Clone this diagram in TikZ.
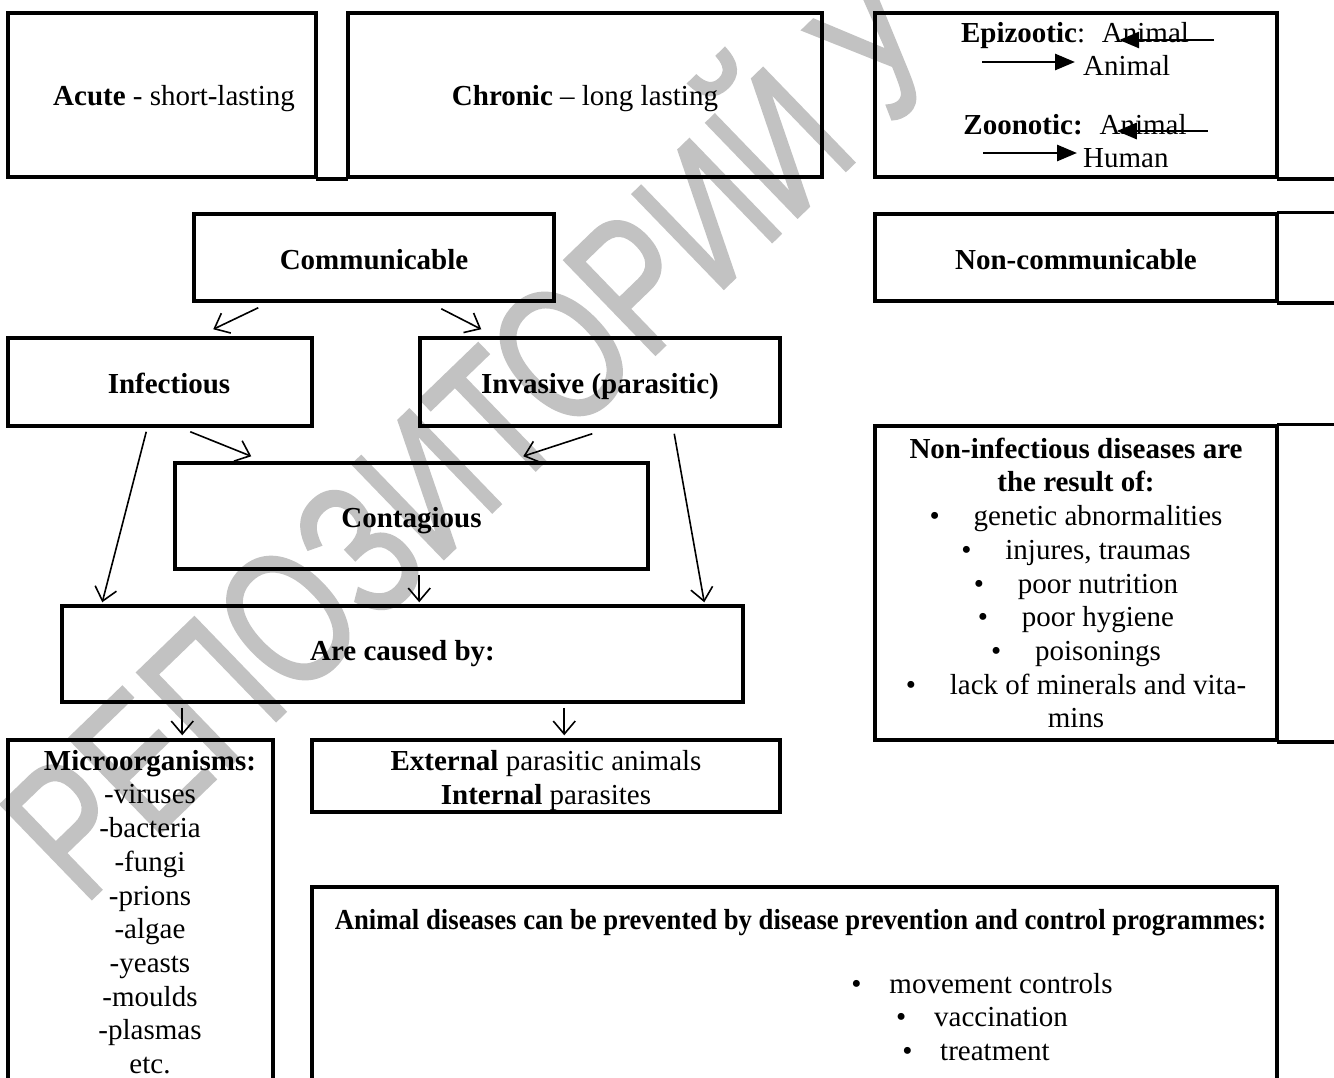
\documentclass[tikz,border=0pt]{standalone}
\usepackage{fontspec}
\setmainfont{Liberation Serif}
\newfontfamily\wmfont[FakeBold=1.5]{Liberation Sans}
\usetikzlibrary{arrows.meta,calc}
\newcommand\lowr[2]{\raisebox{-#1pt}[\height][\depth]{#2}}
\begin{document}
\begin{tikzpicture}[x=1pt,y=-1pt,
  font=\fontsize{29}{33.7}\selectfont,
  box/.style={draw, line width=3.5pt, inner sep=0pt, align=center},
  arr/.style={line width=1.6pt, -{Straight Barb[length=13pt,width=22pt]}},
  farr/.style={line width=2.8pt, -{Triangle[length=20pt,width=16pt]}},
  tline/.style={line width=3.5pt, line cap=rect},
  txt/.style={inner sep=0pt, align=center}]
\clip (0,0) rectangle (1334,1077);
\fill[white] (0,0) rectangle (1334,1077);
% watermark
\node[rotate=44, anchor=base west, inner sep=0pt, text=black!24,
      font=\wmfont\fontsize{190}{190}\selectfont] (wm) at (83,907) {\scalebox{0.75}[1]{РЕПОЗИТОРИЙ У}};

% top row
\node[box, minimum width=308pt, minimum height=164pt] (acute) at (162,95) {\lowr{4}{\hspace*{24pt}\textbf{Acute} - short-lasting}};
\node[box, minimum width=474pt, minimum height=164pt] (chron) at (585,95) {\lowr{4}{\textbf{Chronic} – long lasting}};
\draw[tline] (acute.south east) -- (chron.south west);
\node[box, minimum width=402pt, minimum height=164pt] (epi) at (1076,95) {};
\draw[tline] (epi.south east) -- ++(60,0);
\node[txt, anchor=base] (epi1) at (1075,42) {\textbf{Epizootic}:~ Animal};
\node[txt, anchor=base west] (epi2) at (1083,75) {Animal};
\node[txt, anchor=base] (zoo1) at (1075,134) {\textbf{Zoonotic:}~ Animal};
\node[txt, anchor=base west] (zoo2) at (1083,167) {Human};
\draw[farr] ([shift={(25,-2)}]epi1.base east) -- ([shift={(-70,-2)}]epi1.base east);
\draw[farr] ([shift={(-101,-13)}]epi2.base west) -- ([shift={(-8,-13)}]epi2.base west);
\draw[farr] ([shift={(21,-3)}]zoo1.base east) -- ([shift={(-70,-3)}]zoo1.base east);
\draw[farr] ([shift={(-100,-14)}]zoo2.base west) -- ([shift={(-6,-14)}]zoo2.base west);

% second row
\node[box, minimum width=360pt, minimum height=87pt] (comm) at (374,257.5) {\lowr{2}{\textbf{Communicable}}};
\node[box, minimum width=402pt, minimum height=87pt] (noncomm) at (1076,257.5) {\lowr{2}{\textbf{Non-communicable}}};
\draw[tline] (noncomm.north east) -- ++(60,0);
\draw[tline] (noncomm.south east) -- ++(60,0);

% third row
\node[box, minimum width=304pt, minimum height=88pt] (inf) at (160,382) {\lowr{1}{\hspace*{18pt}\textbf{Infectious}}};
\node[box, minimum width=360pt, minimum height=88pt] (inv) at (600,382) {\lowr{5}{\textbf{Invasive (parasitic)}}};
\node[box, minimum width=402pt, minimum height=314pt] (nonin) at (1076,583) {%
  \textbf{Non-infectious diseases are}\\
  \textbf{the result of:}\\
  \makebox[44pt][l]{\textbullet}genetic abnormalities\\
  \makebox[44pt][l]{\textbullet}injures, traumas\\
  \makebox[44pt][l]{\textbullet}poor nutrition\\
  \makebox[44pt][l]{\textbullet}poor hygiene\\
  \makebox[44pt][l]{\textbullet}poisonings\\
  \makebox[44pt][l]{\textbullet}lack of minerals and vita-\\
  mins};
\draw[tline] (nonin.north east) -- ++(60,0);
\draw[tline] (nonin.south east) -- ++(60,0);

\node[box, minimum width=473pt, minimum height=106pt] (cont) at (411.5,516) {\lowr{5}{\textbf{Contagious}}};
\node[box, minimum width=681pt, minimum height=96pt] (are) at (402.5,654) {\textbf{Are caused by:}};

% bottom
\node[box, minimum width=265pt, minimum height=380pt] (micro) at (140.5,930) {};
\node[txt] (microt) at (150,912) {\textbf{Microorganisms:}\\-viruses\\-bacteria\\-fungi\\-prions\\-algae\\-yeasts\\-moulds\\-plasmas\\etc.};
\node[box, minimum width=468pt, minimum height=72pt] (ext) at (546,776) {\lowr{5}{\begin{tabular}{@{}c@{}}\textbf{External} parasitic animals\\\textbf{Internal} parasites\end{tabular}}};
\node[box, minimum width=965pt, minimum height=240pt] (anim) at (794.5,1007) {};
\node[txt] (animt) at (800.5,923) {\scalebox{0.921}[1]{\textbf{Animal diseases can be prevented by disease prevention and control programmes:}}};
\node[txt] (animl) at (982,1017) {\makebox[38pt][l]{\textbullet}movement controls\\\makebox[38pt][l]{\textbullet}vaccination\\\makebox[38pt][l]{\textbullet}treatment\hspace*{12pt}};

% connectors
\draw[arr] ([shift={(66,5)}]comm.south west) -- ([shift={(207,-7)}]inf.north west);
\draw[arr] ([shift={(249,6)}]comm.south west) -- ([shift={(63,-7)}]inv.north west);
\draw[arr] ([shift={(184,4)}]inf.south west) -- ([shift={(78,-5)}]cont.north west);
\draw[arr] ([shift={(174,6)}]inv.south west) -- ([shift={(350,-5)}]cont.north west);
\draw[arr] ([shift={(140,4)}]inf.south west) -- ([shift={(42,-2)}]are.north west);
\draw[arr] ([shift={(246,4)}]cont.south west) -- ([shift={(359,-2)}]are.north west);
\draw[arr] ([shift={(256,6)}]inv.south west) -- ([shift={(644,-2)}]are.north west);
\draw[arr] ([shift={(122,4)}]are.south west) -- ([shift={(176,-3)}]micro.north west);
\draw[arr] ([shift={(504,4)}]are.south west) -- ([shift={(254,-3)}]ext.north west);
\end{tikzpicture}
\end{document}
